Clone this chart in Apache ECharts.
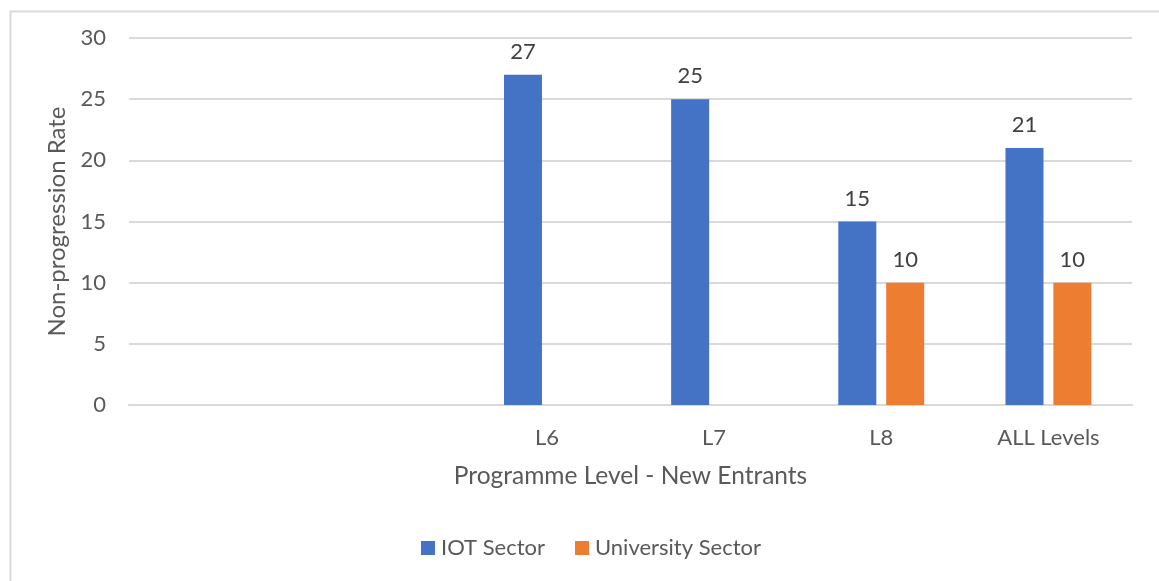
<!DOCTYPE html>
<html>
<head>
<meta charset="utf-8">
<script src="https://cdn.jsdelivr.net/npm/echarts@6/dist/echarts.min.js"></script>
<style>
  html, body { margin: 0; padding: 0; background: #fff; }
  #chart { width: 1159px; height: 581px; }
</style>
</head>
<body>
<div id="chart"></div>
<script>
// Programme levels (two leading empty slots on the category axis)
const categories = ['', '', 'L6', 'L7', 'L8', 'ALL Levels'];
// Non-progression rate by sector
const iotSector = [null, null, 27, 25, 15, 21];
const universitySector = [null, null, null, null, 10, 10];
const seriesNames = ['IOT Sector', 'University Sector'];

const FONT = 'Lato, "Liberation Sans", sans-serif';
const TEXT = '#595959';

const chart = echarts.init(document.getElementById('chart'), null, { renderer: 'canvas' });

const labelStyle = {
  show: true,
  position: 'top',
  distance: 12,
  color: '#404040',
  fontFamily: FONT,
  fontSize: 22
};

chart.setOption({
  animation: false,
  backgroundColor: '#ffffff',
  textStyle: { fontFamily: FONT },
  graphic: [{
    type: 'rect',
    left: 8, top: 9,
    shape: { x: 0, y: 0, width: 1200, height: 620 },
    style: { fill: 'none', stroke: '#d9d9d9', lineWidth: 2 },
    silent: true,
    z: -1
  }],
  grid: { left: 129, right: 27, top: 38, bottom: 176, containLabel: false },
  legend: {
    data: seriesNames,
    left: 416,
    top: 532,
    itemWidth: 14,
    itemHeight: 14,
    itemGap: 30,
    icon: 'rect',
    textStyle: { color: TEXT, fontFamily: FONT, fontSize: 22, padding: [0, 0, 0, 1] }
  },
  xAxis: {
    type: 'category',
    data: categories,
    name: 'Programme Level - New Entrants',
    nameLocation: 'middle',
    nameGap: 59,
    nameTextStyle: { color: TEXT, fontFamily: FONT, fontSize: 24.5 },
    axisLine: { show: true, lineStyle: { color: '#d9d9d9', width: 2 } },
    axisTick: { show: false },
    axisLabel: { color: TEXT, fontFamily: FONT, fontSize: 22, margin: 22, interval: 0 },
    splitLine: { show: false }
  },
  yAxis: {
    type: 'value',
    min: 0,
    max: 30,
    interval: 5,
    name: 'Non-progression Rate',
    nameLocation: 'middle',
    nameRotate: 90,
    nameGap: 57,
    nameTextStyle: { color: TEXT, fontFamily: FONT, fontSize: 24 },
    axisLine: { show: false },
    axisTick: { show: false },
    axisLabel: { color: TEXT, fontFamily: FONT, fontSize: 22, margin: 23 },
    splitLine: { lineStyle: { color: '#d9d9d9', width: 2 } }
  },
  series: [
    {
      name: seriesNames[0],
      type: 'bar',
      data: iotSector,
      barWidth: 38,
      barGap: '26%',
      itemStyle: { color: '#4472C4' },
      label: labelStyle
    },
    {
      name: seriesNames[1],
      type: 'bar',
      data: universitySector,
      barWidth: 38,
      barGap: '26%',
      itemStyle: { color: '#ED7D31' },
      label: labelStyle
    }
  ]
});
</script>
</body>
</html>
